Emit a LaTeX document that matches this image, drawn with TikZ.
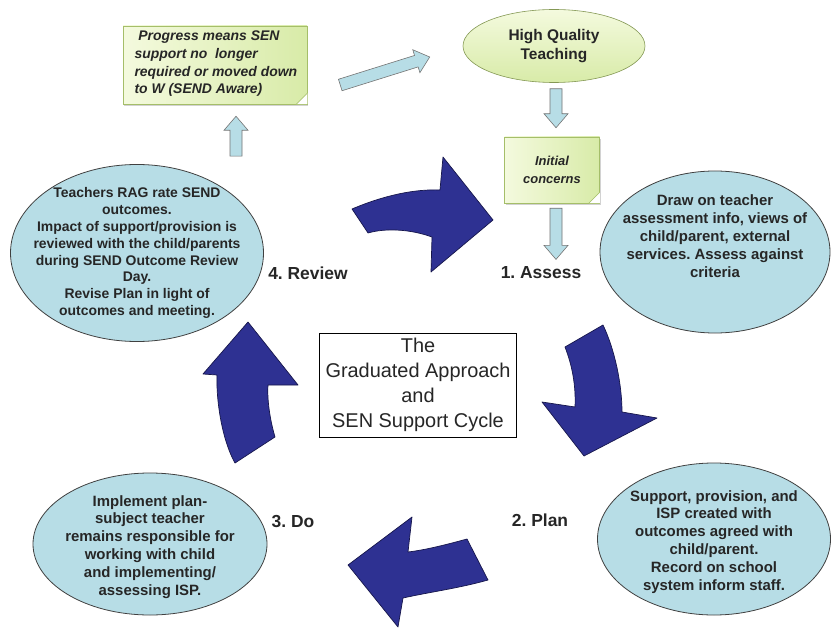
\documentclass[tikz,border=0pt]{standalone}
\usepackage{fontspec}
\setmainfont{Liberation Sans}
\usepackage{xcolor}
\usepackage{tikz}
\usetikzlibrary{positioning, calc, shapes.geometric, shadows, backgrounds}
\definecolor{cyclenavy}{RGB}{46, 49, 146}
\definecolor{cycleedge}{RGB}{22, 22, 75}
\definecolor{infoblue}{RGB}{183, 221, 230}
\definecolor{notegreen}{RGB}{216, 235, 168}
\definecolor{notelight}{RGB}{244, 250, 222}
\definecolor{noteedge}{RGB}{165, 190, 105}
\tikzset{
    infoell/.style={
        ellipse, draw=black!75, line width=0.8pt, fill=infoblue, inner sep=0pt
    },
    infotext/.style={
        font=\fontsize{15}{18}\selectfont\bfseries, align=center, text=black!85
    },
    steplabel/.style={
        font=\fontsize{17.5}{20}\selectfont\bfseries, text=black!85
    },
    notebox/.style={
        rectangle, draw=noteedge, line width=0.5pt, left color=notelight, right color=notegreen,
        drop shadow={shadow xshift=1.5pt, shadow yshift=-2.5pt, opacity=0.35}
    },
    blockarr/.style={
        draw=black!55, fill=infoblue, line width=0.6pt, line join=miter
    },
    cyclearr/.style={
        draw=cycleedge, fill=cyclenavy, line width=0.7pt, line join=round
    }
}
\newcommand{\blockarrow}[2]{
    \coordinate (ba-s) at (#1);
    \coordinate (ba-e) at (#2);
    \coordinate (ba-h) at ($(ba-e)!14bp!(ba-s)$);
    \draw[blockarr] ($(ba-s)!6bp!90:(ba-e)$) -- ($(ba-h)!6bp!90:(ba-e)$)
        -- ($(ba-h)!12bp!90:(ba-e)$) -- (ba-e)
        -- ($(ba-h)!12bp!-90:(ba-e)$) -- ($(ba-h)!6bp!-90:(ba-e)$)
        -- ($(ba-s)!6bp!-90:(ba-e)$) -- cycle;
}
\newcommand{\dogear}[1]{
    \fill[white] ($(#1.south east)+(-11,0)$) -- (#1.south east) -- ($(#1.south east)+(0,-11)$) -- cycle;
    \filldraw[draw=noteedge, fill=notegreen!60!noteedge] ($(#1.south east)+(-11,0)$) -- ($(#1.south east)+(0,-11)$) -- ($(#1.south east)+(-8,-3)$) -- cycle;
}

\begin{document}
\frenchspacing
\begin{tikzpicture}[x=1bp, y=-1bp]

    % --- NỀN / KHUNG ---
    \useasboundingbox (0,0) rectangle (833,628);
    \fill[white] (0,0) rectangle (833,628);

    % --- PHẦN TRÊN ---
    % Ghi chú tiến bộ
    \node[notebox, minimum width=184bp, minimum height=78bp, inner sep=0pt] (note) at (215,65) {};
    \node[font=\fontsize{14}{17.7}\selectfont\bfseries\itshape, align=left, text=black!85,
          anchor=west] (note-txt) at (131,64) {\ Progress means SEN\\support no \ longer\\required or moved down\\to W (SEND Aware)};
    \dogear{note}

    % High Quality Teaching
    \node[ellipse, draw=noteedge!80!black, line width=0.6pt, top color=notelight, bottom color=notegreen,
          minimum width=182bp, minimum height=73bp, inner sep=0pt,
          font=\fontsize{15.5}{19}\selectfont\bfseries, align=center, text=black!85] (hqt) at (554,46) {High Quality\\Teaching};

    % Initial concerns
    \node[notebox, minimum width=95bp, minimum height=66bp, inner sep=0pt,
          font=\fontsize{13}{18}\selectfont\bfseries\itshape, align=center, text=black!85] (init) at (552,170) {Initial\\concerns};
    \dogear{init}

    % --- CÁC Ô THÔNG TIN ---
    \node[infoell, minimum width=253bp, minimum height=177bp] (review) at (137,253) {};
    \node[infotext, font=\fontsize{14}{17}\selectfont\bfseries] (review-txt) at (review) {Teachers RAG rate SEND\\outcomes.\\Impact of support/provision is\\reviewed with the child/parents\\during SEND Outcome Review\\Day.\\Revise Plan in light of\\outcomes and meeting.};

    \node[infoell, minimum width=230bp, minimum height=162bp] (assess) at (715,252) {};
    \node[infotext] (assess-txt) at (715,236) {Draw on teacher\\assessment info, views of\\child/parent, external\\services. Assess against\\criteria};

    \node[infoell, minimum width=233bp, minimum height=152bp] (plan) at (714,539) {};
    \node[infotext] (plan-txt) at (714,542) {Support, provision, and\\ISP created with\\outcomes agreed with\\child/parent.\\Record on school\\system inform staff.};

    \node[infoell, minimum width=234bp, minimum height=142bp] (do) at (150,544) {};
    \node[infotext] (do-txt) at (150,547) {Implement plan-\\subject teacher\\remains responsible for\\working with child\\and implementing/\\assessing ISP.};

    % --- NHÃN BƯỚC ---
    \node[steplabel] (lassess) at (541,273) {1. Assess};
    \node[steplabel] (lplan) at (540,520) {2. Plan};
    \node[steplabel] (ldo) at (293,522) {3. Do};
    \node[steplabel] (lreview) at (308,273) {4. Review};

    % Ô giữa
    \node[draw=black, line width=1pt, fill=white, minimum width=197bp, minimum height=104bp,
          font=\fontsize{20}{25}\selectfont, align=center, text=black!85] (title) at (418,385)
          {The\\Graduated Approach\\and\\SEN Support Cycle};

    % --- MŨI TÊN NHỎ ---
    \blockarrow{$(note.east)+(33,20)$}{$(hqt.west)+(-33,11)$}
    \blockarrow{$(hqt.south)+(2,6)$}{$(init.north)+(4,-9)$}
    \blockarrow{$(init.south)+(4,5)$}{$(lassess.north)+(15,-4)$}
    \blockarrow{$(review.north)+(99,-8)$}{$(note.south)+(21,12)$}

    % --- MŨI TÊN CHU TRÌNH ---
    % Review -> Assess
    \draw[cyclearr] (352,209) .. controls (385,195) and (415,189) .. (440,190) -- (443,157) -- (493,220)
        -- (431,272) -- (432,237) .. controls (410,229) and (385,228) .. (368,233) -- cycle;
    % Assess -> Plan
    \draw[cyclearr] (603,325) .. controls (615,350) and (622,385) .. (622,412) -- (657,418) -- (584,456)
        -- (542,402) -- (575,407) .. controls (576,385) and (572,365) .. (565,347) -- cycle;
    % Plan -> Do
    \draw[cyclearr] (467,539) .. controls (445,545) and (425,550) .. (408,552) -- (412,517) -- (348,565)
        -- (398,627) -- (403,598) .. controls (430,592) and (460,588) .. (488,580) -- cycle;
    % Do -> Review
    \draw[cyclearr] (275,437) .. controls (270,420) and (267,400) .. (268,385) -- (298,385) -- (248,322)
        -- (203,374) -- (217,375) .. controls (216,400) and (222,440) .. (235,463) -- cycle;

\end{tikzpicture}
\end{document}
